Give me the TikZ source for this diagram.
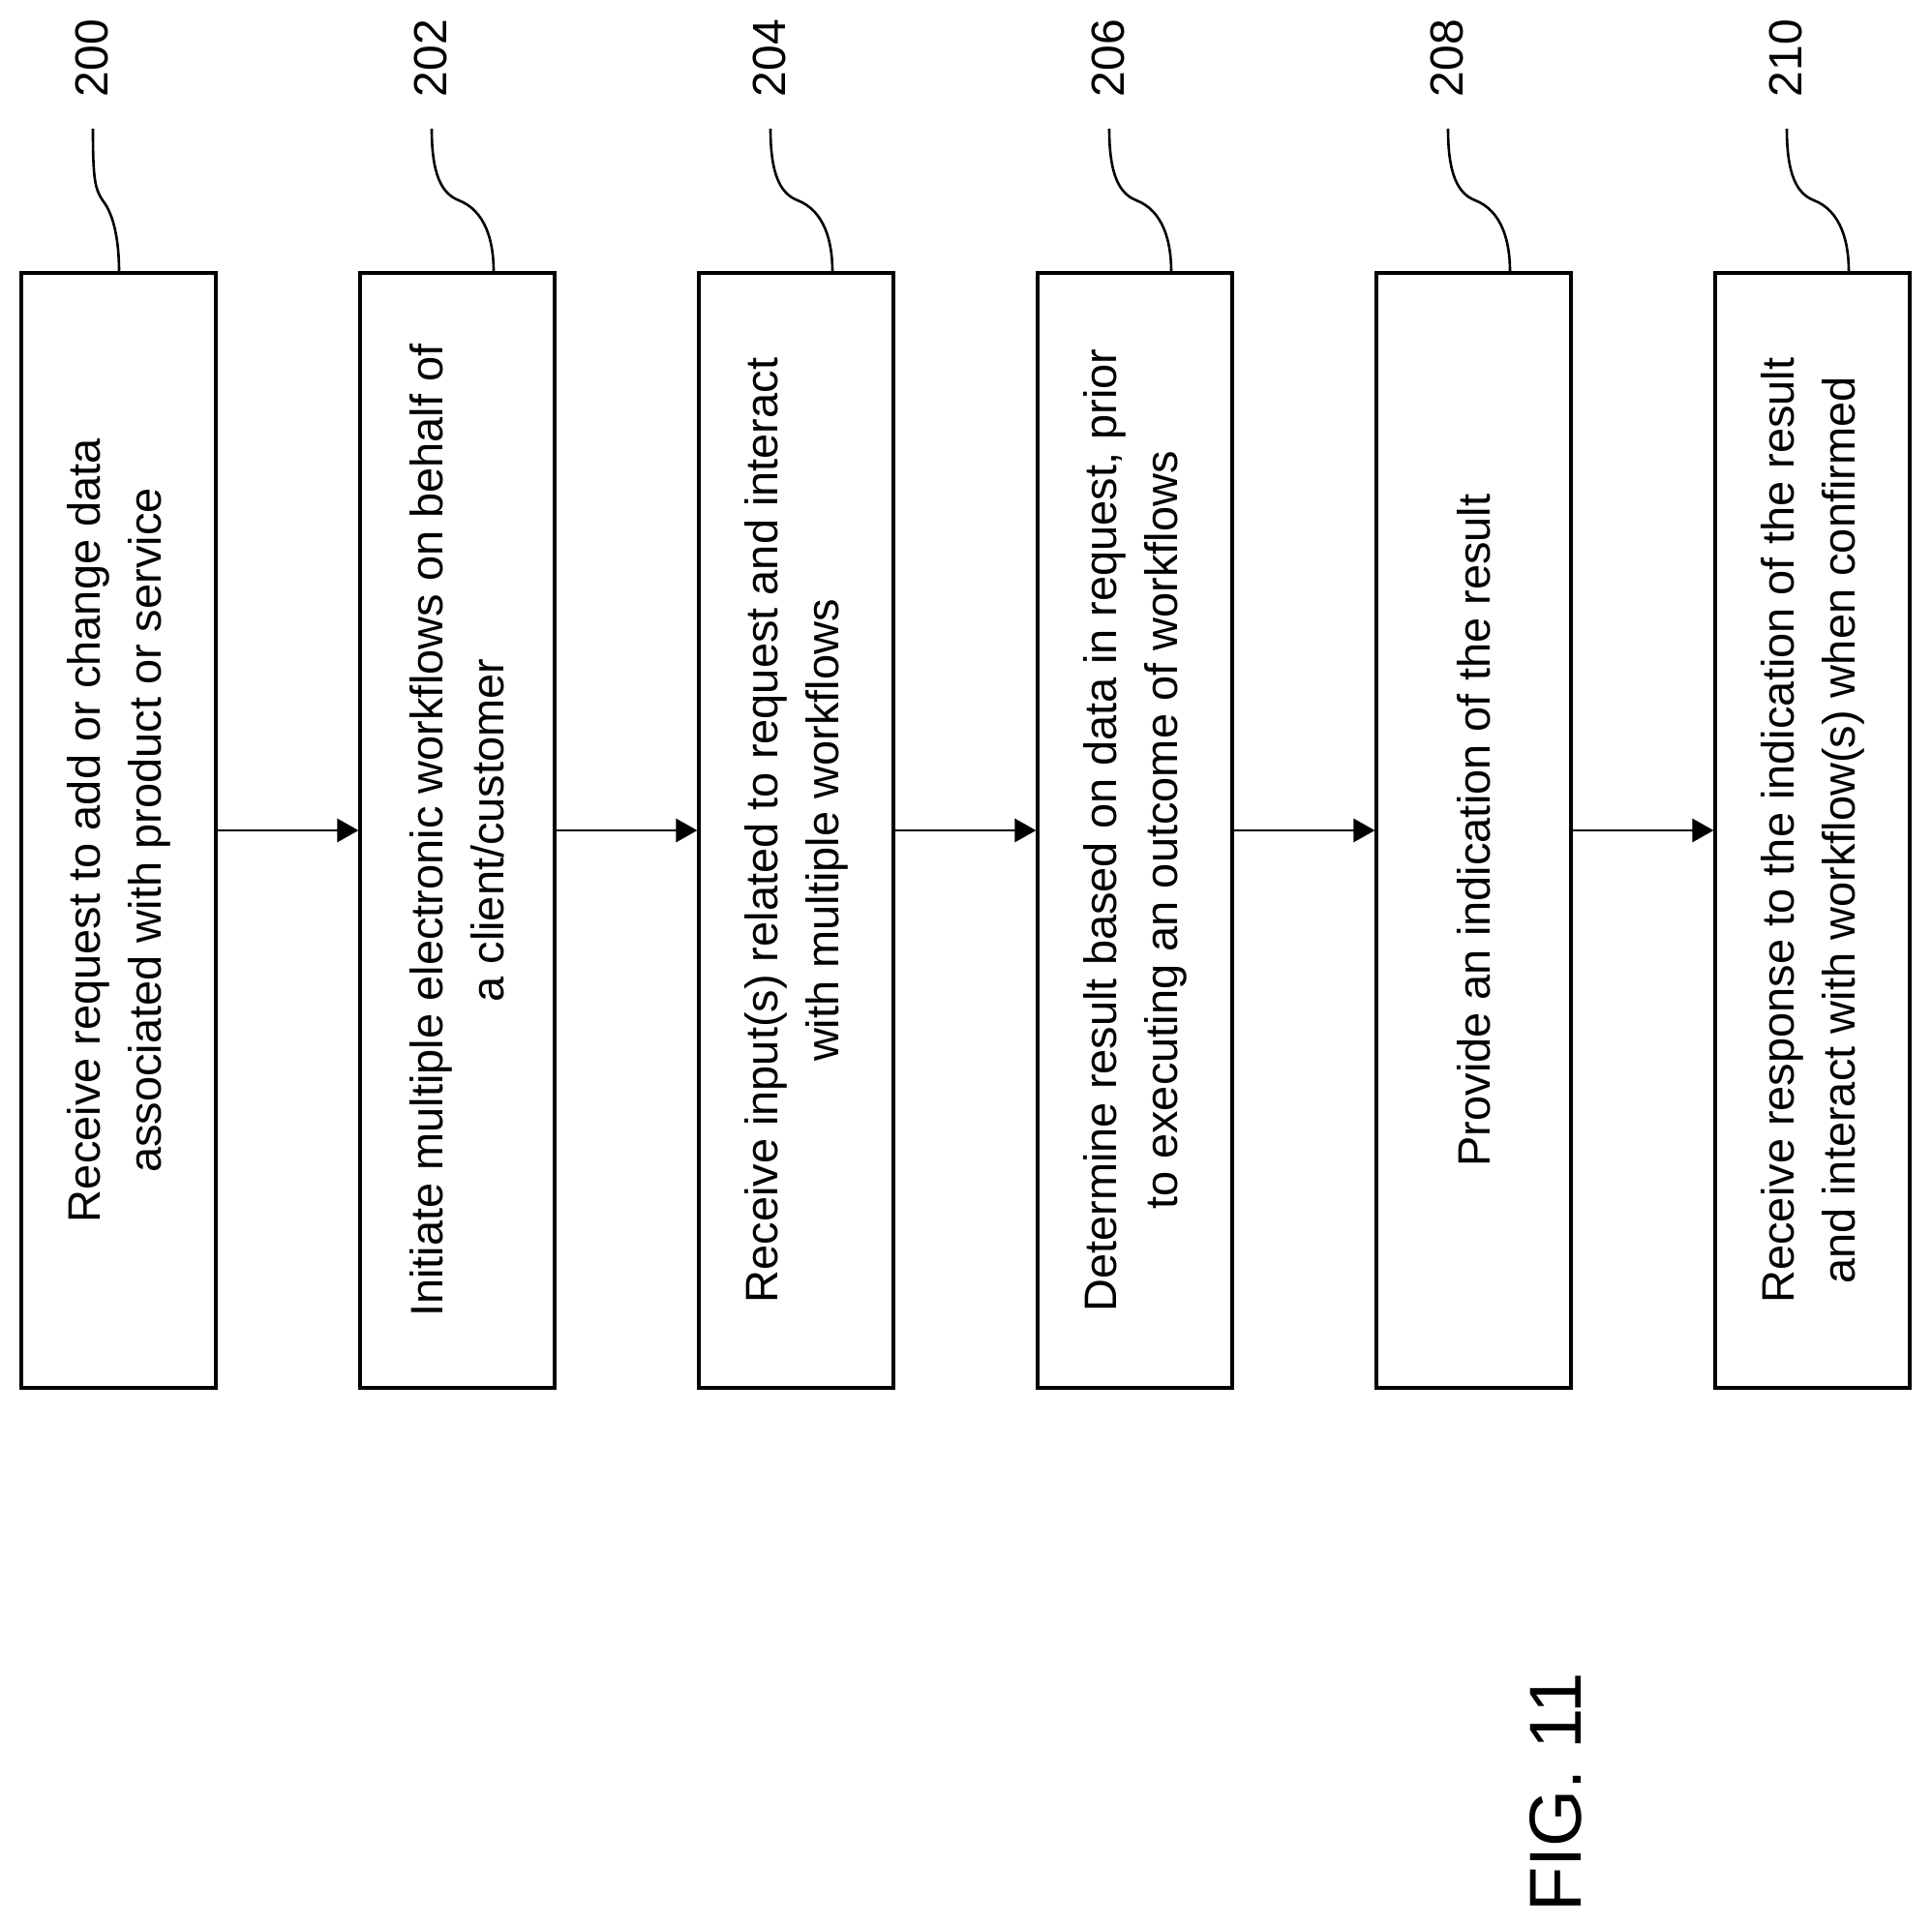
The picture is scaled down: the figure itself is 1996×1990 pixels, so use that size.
\documentclass[tikz,border=0pt]{standalone}
\usepackage{fontspec}
\setmainfont{Liberation Sans}
\usetikzlibrary{arrows.meta}
\begin{document}
\begin{tikzpicture}[x=0.5pt,y=-0.5pt,
  box/.style={draw,line width=1.6pt,rotate=90,minimum width=576pt,minimum height=100.5pt,inner sep=0pt,align=center,font=\fontsize{23.5pt}{31.5pt}\selectfont},
  num/.style={rotate=90,font=\fontsize{24pt}{28pt}\selectfont,inner sep=0pt},
  arr/.style={line width=1.4pt,-{Triangle[length=11pt,width=12pt]}},
  lead/.style={line width=1.3pt}]
\useasboundingbox (0,0) rectangle (1996,1990);
\node[box] (b0) at (122.5,858) {Receive request to add or change data\\associated with product or service};
\node[box] (b1) at (472.5,858) {Initiate multiple electronic workflows on behalf of\\a client/customer};
\node[box] (b2) at (822.5,858) {Receive input(s) related to request and interact\\with multiple workflows};
\node[box] (b3) at (1172.5,858) {Determine result based on data in request,  prior\\to executing an outcome of workflows};
\node[box] (b4) at (1522.5,858) {Provide an indication of the result};
\node[box] (b5) at (1872.5,858) {Receive response to the indication of the result\\and interact with workflow(s) when confirmed};
\foreach \i/\t in {0/200,1/202,2/204,3/206,4/208,5/210}{
  \pgfmathsetmacro{\L}{22+350*\i}
  \node[num] (n\i) at (\L+73,60) {\t};
}
\foreach \i in {0,1,2,3,4,5}{
  \pgfmathsetmacro{\L}{22+350*\i}
  \coordinate (c\i) at (\L+74,133);
}
\draw[lead] (c0) .. controls (96,185) and (98,195) .. (106,207) .. controls (118,222) and (123,250) .. (b0.east -| 123,0);
\foreach \i in {1,2,3,4,5}{
  \pgfmathsetmacro{\L}{22+350*\i}
  \draw[lead] (c\i) .. controls (\L+74,180) and (\L+84,200) .. (\L+102,207) .. controls (\L+130,218) and (\L+138,250) .. (b\i.east -| {\L+138},0);
}
\foreach \i/\j in {0/1,1/2,2/3,3/4,4/5}{
  \draw[arr] (b\i.south) -- (b\j.north);
}
\node[rotate=90,font=\fontsize{38pt}{44pt}\selectfont,inner sep=0pt] (fig) at (1607,1852) {FIG. 11};
\end{tikzpicture}
\end{document}
